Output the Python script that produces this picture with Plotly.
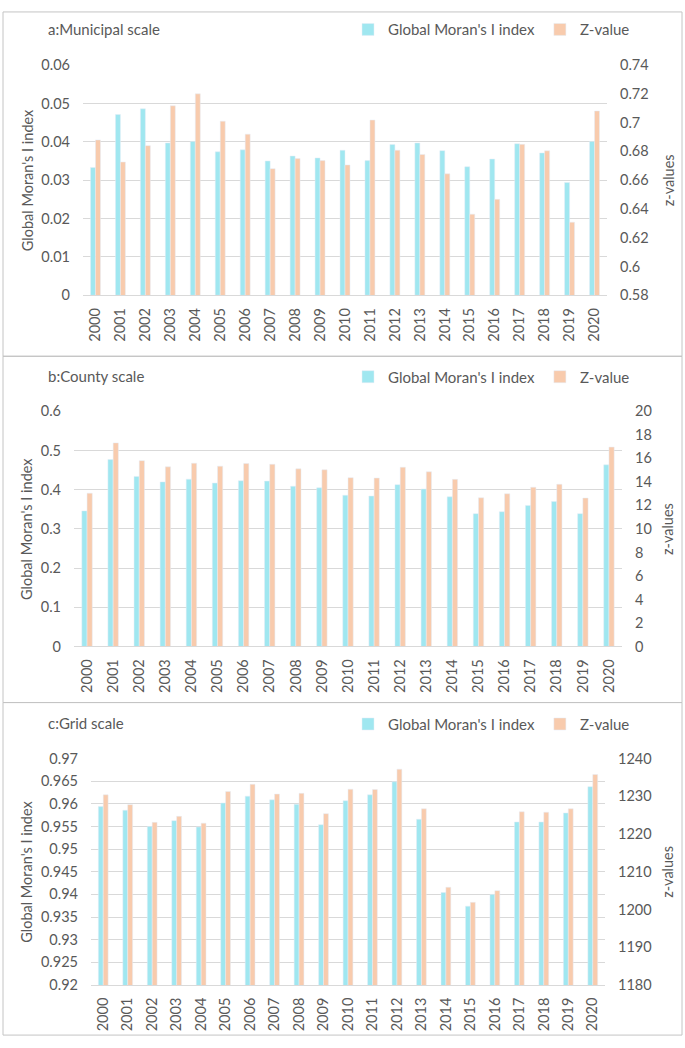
import plotly.graph_objects as go

# years on the category axis
years = [str(y) for y in range(2000, 2021)]

# a: municipal scale
muni_moran = [0.0333, 0.0471, 0.0486, 0.0397, 0.0401, 0.0374, 0.0379, 0.0350, 0.0363, 0.0358,
              0.0378, 0.0351, 0.0393, 0.0397, 0.0377, 0.0335, 0.0355, 0.0395, 0.0371, 0.0294, 0.0401]
muni_z = [0.688, 0.6726, 0.684, 0.7117, 0.720, 0.701, 0.692, 0.668, 0.675, 0.6736,
          0.6706, 0.7018, 0.6808, 0.6779, 0.6644, 0.6364, 0.6467, 0.6849, 0.6804, 0.6308, 0.7081]

# b: county scale
county_moran = [0.346, 0.477, 0.434, 0.420, 0.427, 0.417, 0.423, 0.422, 0.409, 0.405,
                0.386, 0.384, 0.413, 0.402, 0.382, 0.339, 0.344, 0.360, 0.370, 0.339, 0.4635]
county_z = [13.04, 17.32, 15.81, 15.28, 15.59, 15.34, 15.56, 15.50, 15.11, 15.03,
            14.36, 14.33, 15.25, 14.86, 14.22, 12.65, 12.99, 13.55, 13.80, 12.63, 16.96]

# c: grid scale
grid_moran = [0.9594, 0.9586, 0.9550, 0.9563, 0.9549, 0.9602, 0.9617, 0.9609, 0.9599, 0.9554,
              0.9607, 0.9620, 0.9649, 0.9566, 0.9404, 0.9374, 0.9400, 0.9560, 0.9560, 0.9580, 0.9638]
grid_z = [1230.4, 1227.8, 1223.1, 1224.7, 1222.9, 1231.3, 1233.2, 1230.6, 1230.8, 1225.4,
          1231.9, 1231.8, 1237.2, 1226.7, 1205.9, 1201.9, 1205.0, 1225.9, 1225.8, 1226.7, 1235.8]

W, H = 685, 1048
BLUE = "#A0E7F0"
ORANGE = "#F8CBAD"
GREY = "#595959"
GRID = "#D9D9D9"
FONT = "Lato"


def fx(p):
    return p / W


def fy(p):
    return 1 - p / H


panels = [
    dict(title="a:Municipal scale", moran=muni_moran, z=muni_z,
         left=(0, 0.06, 0.01), right=(0.58, 0.74, 0.02),
         box=(83, 607, 57, 291), frame=(3, 353), head=20),
    dict(title="b:County scale", moran=county_moran, z=county_z,
         left=(0, 0.6, 0.1), right=(0, 20, 2),
         box=(74, 622, 409, 648), frame=(353, 705), head=373),
    dict(title="c:Grid scale", moran=grid_moran, z=grid_z,
         left=(0.92, 0.97, 0.005), right=(1180, 1240, 10),
         box=(91, 605, 762, 992), frame=(705, 1043), head=726),
]

fig = go.Figure()
layout = dict(width=W, height=H, margin=dict(l=0, r=0, t=0, b=0),
              paper_bgcolor="white", plot_bgcolor="white",
              font=dict(family=FONT, size=14, color=GREY),
              shapes=[], annotations=[])

for i, p in enumerate(panels):
    n = i + 1
    xa = "x" if n == 1 else f"x{n}"
    ya_l = "y" if n == 1 else f"y{2 * n - 1}"
    ya_r = f"y{2 * n}"
    leg = "legend" if n == 1 else f"legend{n}"
    x0, x1, y0, y1 = p["box"]

    fig.add_trace(go.Bar(x=years, y=p["moran"], name="Global Moran's I index",
                         marker_color=BLUE, width=0.2, offset=-0.2,
                         xaxis=xa, yaxis=ya_l, legend=leg))
    fig.add_trace(go.Bar(x=years, y=p["z"], name="Z-value",
                         marker_color=ORANGE, width=0.2, offset=0,
                         xaxis=xa, yaxis=ya_r, legend=leg))

    xkey = "xaxis" if n == 1 else f"xaxis{n}"
    lkey = "yaxis" if n == 1 else f"yaxis{2 * n - 1}"
    rkey = f"yaxis{2 * n}"
    layout[xkey] = dict(domain=[fx(x0), fx(x1)], anchor=ya_l, type="category",
                        tickangle=-90, showline=True, linecolor=GRID, linewidth=1,
                        ticks="", ticklabelstandoff=6,
                        tickfont=dict(size=14.5, color=GREY))
    lo, hi, dt = p["left"]
    layout[lkey] = dict(domain=[fy(y1), fy(y0)], anchor=xa, range=[lo, hi],
                        tick0=lo, dtick=dt, showgrid=True, gridcolor=GRID,
                        zeroline=False, ticks="", ticklabelstandoff=12,
                        tickfont=dict(size=14.5, color=GREY))
    lo, hi, dt = p["right"]
    layout[rkey] = dict(overlaying=ya_l, side="right", anchor=xa, range=[lo, hi],
                        tick0=lo, dtick=dt, showgrid=False, zeroline=False,
                        ticks="", ticklabelstandoff=12,
                        tickfont=dict(size=14.5, color=GREY))

    layout[leg] = dict(orientation="h", x=fx(348), xanchor="left",
                       y=fy(p["head"] + 1), yanchor="middle",
                       bgcolor="rgba(0,0,0,0)", font=dict(size=15, color=GREY),
                       itemclick=False)

    f0, f1 = p["frame"]
    layout["shapes"].append(dict(type="rect", xref="paper", yref="paper",
                                 x0=fx(3), x1=fx(682), y0=fy(f1), y1=fy(f0),
                                 line=dict(color="#C4C4C4", width=1)))

    layout["annotations"].append(dict(text=p["title"], xref="paper", yref="paper",
                                      x=fx(46), y=fy(p["head"]), xanchor="left",
                                      yanchor="middle", showarrow=False,
                                      font=dict(size=15, color=GREY)))
    mid = (y0 + y1) / 2
    layout["annotations"].append(dict(text="Global Moran's I index", xref="paper",
                                      yref="paper", x=fx(27), y=fy(mid), textangle=-90,
                                      xanchor="center", yanchor="middle", showarrow=False,
                                      font=dict(size=14.5, color=GREY)))
    layout["annotations"].append(dict(text="z-values", xref="paper", yref="paper",
                                      x=fx(668), y=fy(mid), textangle=-90,
                                      xanchor="center", yanchor="middle", showarrow=False,
                                      font=dict(size=14.5, color=GREY)))

fig.update_layout(**layout)
fig.write_html("out.html", config={"displayModeBar": False},
               post_script="document.body.style.margin='0';")
